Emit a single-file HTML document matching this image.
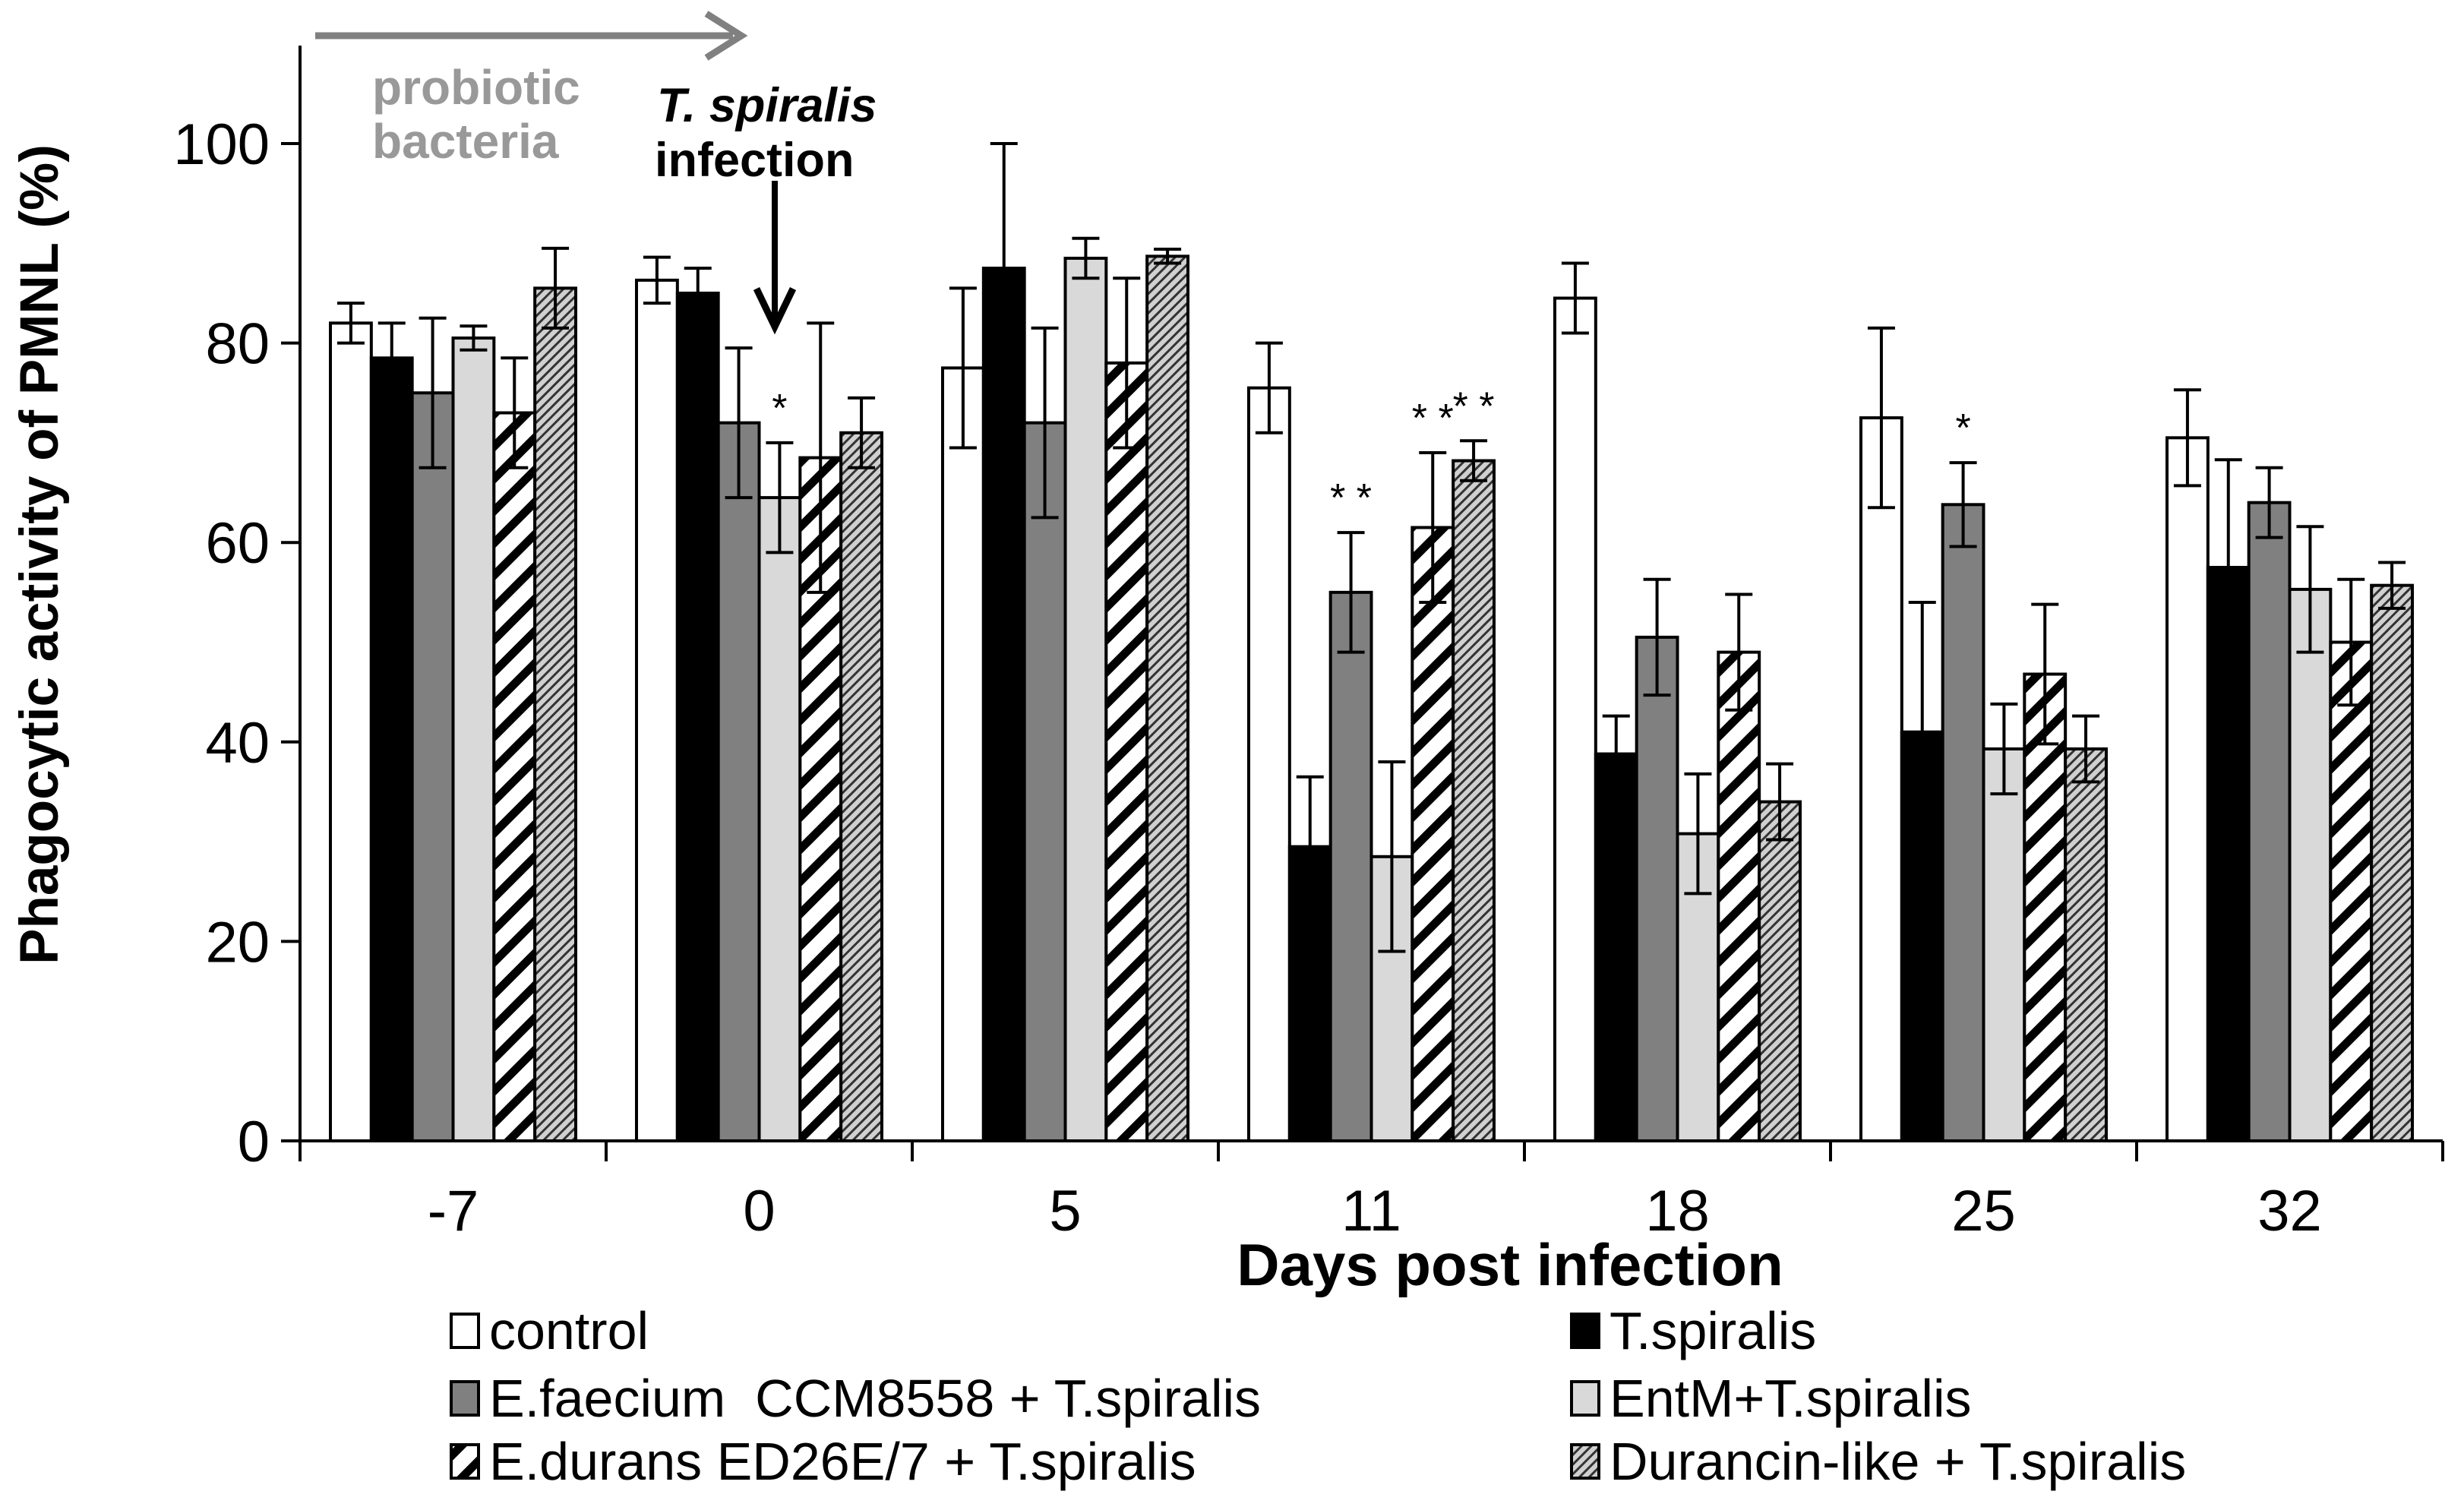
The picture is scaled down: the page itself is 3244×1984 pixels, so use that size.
<!DOCTYPE html>
<html><head><meta charset="utf-8"><style>
html,body{margin:0;padding:0;background:#fff;}
svg{display:block;font-family:"Liberation Sans",Arial,sans-serif;}
</style></head><body>
<svg id="chart" width="3244" height="1984" viewBox="0 0 3244 1984" xmlns="http://www.w3.org/2000/svg">
<defs>
<pattern id="wide" patternUnits="userSpaceOnUse" width="30" height="30" patternTransform="rotate(-45)">
<rect width="30" height="30" fill="#fff"/><rect width="30" height="11" fill="#000"/></pattern>
<pattern id="fine" patternUnits="userSpaceOnUse" width="9" height="9" patternTransform="rotate(-45)">
<rect width="9" height="9" fill="#d0d0d0"/><rect width="9" height="3" fill="#333"/></pattern>
</defs>
<g id="plot"></g>
<text transform="translate(76,730) rotate(-90)" text-anchor="middle" font-size="71" font-weight="bold">Phagocytic activity of PMNL (%)</text>
<text x="1988" y="1692" text-anchor="middle" font-size="78" font-weight="bold">Days post infection</text>
<g>
<line x1="415" y1="47" x2="965" y2="47" stroke="#808080" stroke-width="9"/>
<polyline points="930,18 976,47 930,76" fill="none" stroke="#808080" stroke-width="9"/>
</g>
<text x="490" y="137" font-size="64" font-weight="bold" fill="#999">probiotic</text>
<text x="490" y="208" font-size="64" font-weight="bold" fill="#999">bacteria</text>
<text x="865" y="160" font-size="63" font-weight="bold" font-style="italic">T. spiralis</text>
<text x="862" y="232" font-size="63" font-weight="bold">infection</text>
<g>
<line x1="1020" y1="238" x2="1020" y2="420" stroke="#000" stroke-width="8"/>
<polyline points="996,380 1020,430 1044,380" fill="none" stroke="#000" stroke-width="9"/>
</g>
<g id="legend"></g>
</svg>
<script>
const categories = ["-7","0","5","11","18","25","32"];
const seriesNames = ["control","T.spiralis","E.faecium  CCM8558 + T.spiralis","EntM+T.spiralis","E.durans ED26E/7 + T.spiralis","Durancin-like + T.spiralis"];
const control = [82,86.3,77.5,75.5,84.5,72.5,70.5];
const tspiralis = [78.5,85,87.5,29.5,38.8,41,57.5];
const efaecium = [75,72,72,55,50.5,63.8,64];
const entm = [80.5,64.5,88.5,28.5,30.8,39.3,55.3];
const edurans = [73,68.5,78,61.5,49,46.8,50];
const durancin = [85.5,71,88.7,68.2,34,39.3,55.7];
const errControl = [2,2.3,8,4.5,3.5,9,4.8];
const errTspiralis = [3.5,2.5,12.5,7,3.8,13,10.8];
const errEfaecium = [7.5,7.5,9.5,6,5.8,4.2,3.5];
const errEntm = [1.2,5.5,2,9.5,6,4.5,6.3];
const errEdurans = [5.5,13.5,8.5,7.5,5.8,7,6.3];
const errDurancin = [4,3.5,0.7,2,3.8,3.3,2.3];
const yTicks = [0,20,40,60,80,100];
const significance = [["","","","","",""],["","","","*","",""],["","","","","",""],["","","* *","","* *","* *"],["","","","","",""],["","","*","","",""],["","","","","",""]];

const series=[control,tspiralis,efaecium,entm,edurans,durancin];
const errs=[errControl,errTspiralis,errEfaecium,errEntm,errEdurans,errDurancin];
const fills=["#fff","#000","#808080","#d9d9d9","url(#wide)","url(#fine)"];
const X0=395,GW=403,Y0=1502,Y100=189,PAD=40;
const BW=(GW-2*PAD)/6;
const y=v=>Y0-(v/100)*(Y0-Y100);
const gx=i=>X0+i*GW;
const NS="http://www.w3.org/2000/svg";
const plot=document.getElementById('plot');
function mk(tag,attrs,parent){const e=document.createElementNS(NS,tag);for(const k in attrs)e.setAttribute(k,attrs[k]);(parent||plot).appendChild(e);return e;}
const safe=s=>s.replace(/[^a-z0-9]+/gi,'-').toLowerCase();
categories.forEach((c,i)=>{
  series.forEach((s,j)=>{
    const x=gx(i)+PAD+j*BW;
    const r=mk('rect',{x:x,y:y(s[i]),width:BW,height:Y0-y(s[i]),fill:fills[j],stroke:'#000','stroke-width':4});
    
    
    const cx=x+BW/2,t=y(s[i]+errs[j][i]),b=y(s[i]-errs[j][i]);
    const eb=mk('path',{d:`M${cx},${t}V${b}M${cx-18},${t}h36M${cx-18},${b}h36`,stroke:'#000','stroke-width':4,fill:'none'});
    
    
    const sig=significance[i][j];
    if(sig){const st=mk('text',{x:cx,y:t-28,'text-anchor':'middle','font-size':52});st.textContent=sig;st.style.whiteSpace='pre';
      
      }
  });
});
const ya=mk('line',{x1:X0,y1:60,x2:X0,y2:Y0,stroke:'#000','stroke-width':4});


const xa=mk('line',{x1:X0-25,y1:Y0,x2:gx(7),y2:Y0,stroke:'#000','stroke-width':4});


yTicks.forEach(v=>{
  mk('line',{x1:X0-25,y1:y(v),x2:X0,y2:y(v),stroke:'#000','stroke-width':4});
  const t=mk('text',{x:X0-40,y:y(v)+27,'text-anchor':'end','font-size':76});t.textContent=v;
  
  
});
for(let i=0;i<=categories.length;i++) mk('line',{x1:gx(i),y1:Y0,x2:gx(i),y2:Y0+27,stroke:'#000','stroke-width':4});
categories.forEach((c,i)=>{
  const t=mk('text',{x:gx(i)+GW/2,y:Y0+118,'text-anchor':'middle','font-size':76});t.textContent=c;
  
  
});
const lg=document.getElementById('legend');
const pos=[[594,1752],[2069,1752],[594,1841],[2069,1841],[594,1924],[2069,1924]];
seriesNames.forEach((n,j)=>{
  const [lx,ly]=pos[j];
  const g=mk('g',{},lg);
  
  
  mk('rect',{x:lx,y:ly-22,width:36,height:44,fill:fills[j],stroke:'#000','stroke-width':4},g);
  const t=mk('text',{x:lx+50,y:ly+24,'font-size':70},g);t.textContent=n;t.style.whiteSpace='pre';
});
</script>
</body></html>
